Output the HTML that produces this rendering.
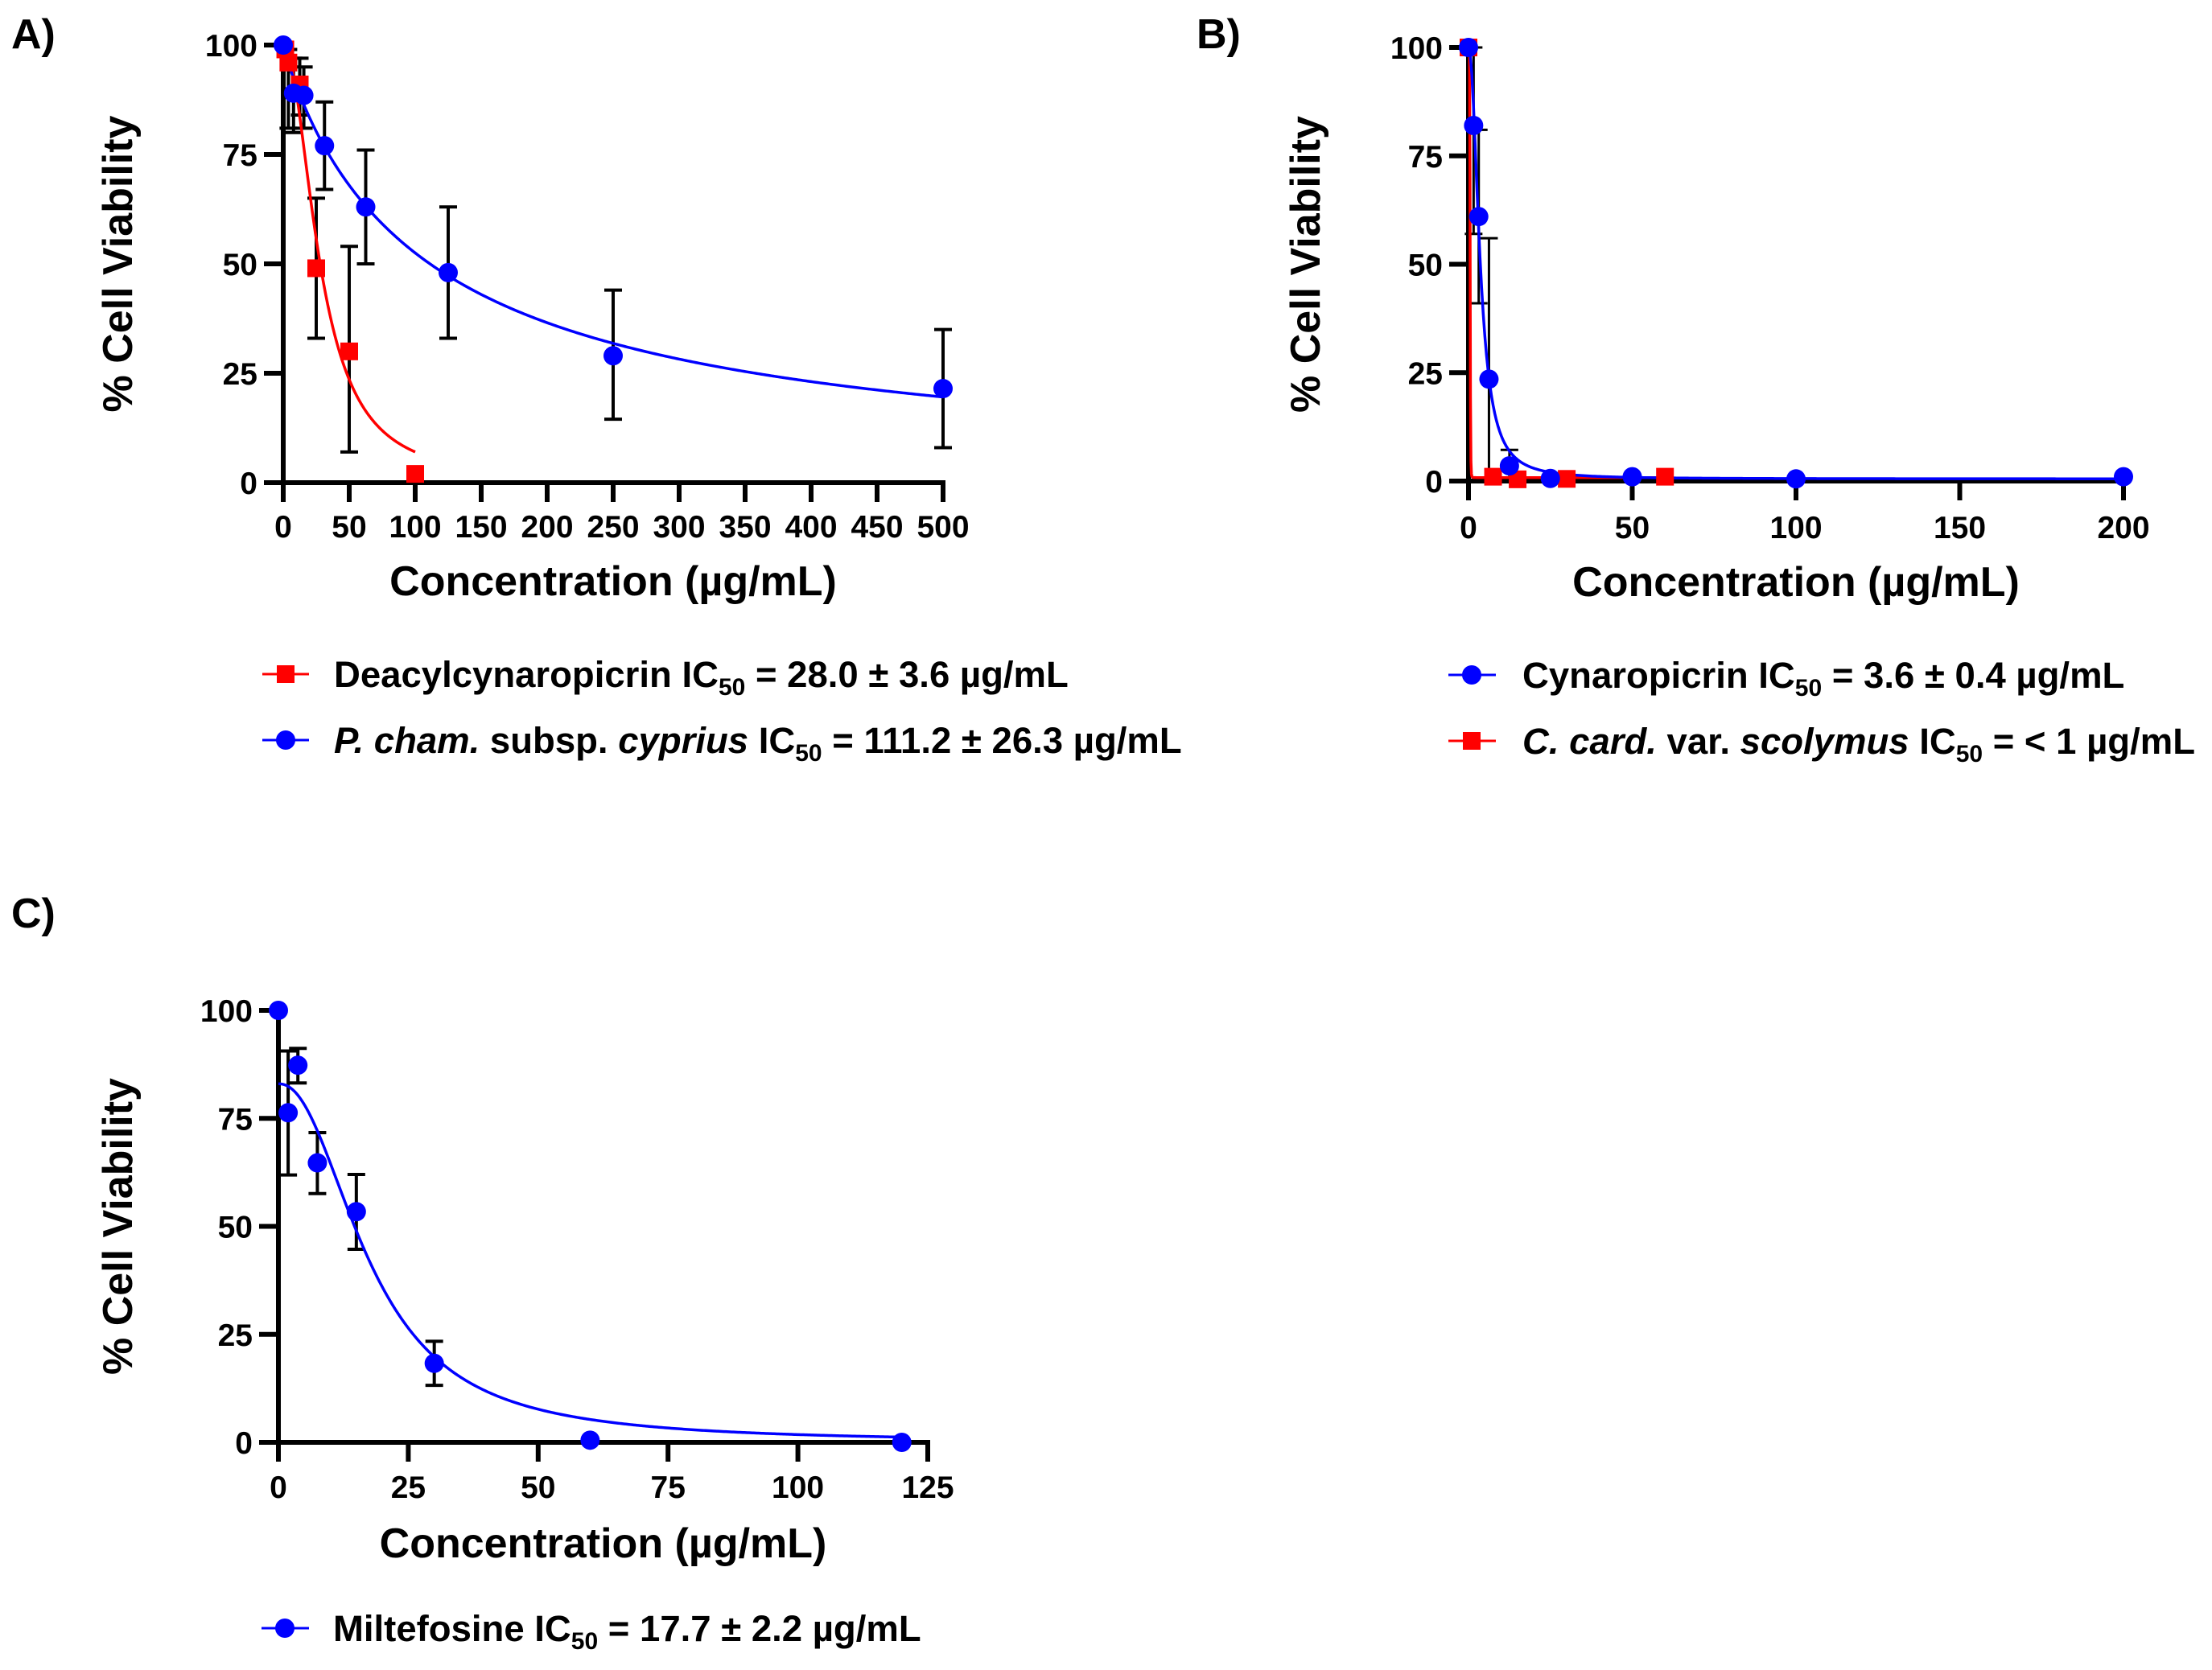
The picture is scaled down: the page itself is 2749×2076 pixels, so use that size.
<!DOCTYPE html>
<html><head><meta charset="utf-8"><style>
html,body{margin:0;padding:0;background:#fff;}
svg{display:block;font-family:"Liberation Sans",Arial,sans-serif;font-weight:bold;}
</style></head><body>
<svg id="fig" width="2749" height="2076" viewBox="0 0 2749 2076" xmlns="http://www.w3.org/2000/svg">
<rect width="2749" height="2076" fill="#fff"/>
<text x="14" y="60" font-size="52">A)</text>
<text x="1487" y="60" font-size="52">B)</text>
<text x="14" y="1153" font-size="52">C)</text>
<g id="pA"></g>
<g id="pB"></g>
<g id="pC"></g>
<g font-size="45.5">
 <g>
  <line x1="326" y1="838" x2="384" y2="838" stroke="#f00" stroke-width="3"/>
  <rect x="344" y="827" width="22" height="22" fill="#f00"/>
  <text x="415" y="854">Deacylcynaropicrin IC<tspan font-size="30" dy="10">50</tspan><tspan dy="-10"> = 28.0 ± 3.6 µg/mL</tspan></text>
 </g>
 <g>
  <line x1="326" y1="920" x2="384" y2="920" stroke="#00f" stroke-width="3"/>
  <circle cx="355" cy="920" r="12" fill="#00f"/>
  <text x="415" y="936"><tspan font-style="italic">P. cham.</tspan> subsp. <tspan font-style="italic">cyprius</tspan> IC<tspan font-size="30" dy="10">50</tspan><tspan dy="-10"> = 111.2 ± 26.3 µg/mL</tspan></text>
 </g>
</g>
<g font-size="45.5">
 <g>
  <line x1="1800" y1="839" x2="1859" y2="839" stroke="#00f" stroke-width="3"/>
  <circle cx="1829" cy="839" r="12" fill="#00f"/>
  <text x="1892" y="855">Cynaropicrin IC<tspan font-size="30" dy="10">50</tspan><tspan dy="-10"> = 3.6 ± 0.4 µg/mL</tspan></text>
 </g>
 <g>
  <line x1="1800" y1="921" x2="1859" y2="921" stroke="#f00" stroke-width="3"/>
  <rect x="1818" y="910" width="22" height="22" fill="#f00"/>
  <text x="1892" y="937"><tspan font-style="italic">C. card.</tspan> var. <tspan font-style="italic">scolymus</tspan> IC<tspan font-size="30" dy="10">50</tspan><tspan dy="-10"> = &lt; 1 µg/mL</tspan></text>
 </g>
</g>
<g font-size="45.5">
 <g>
  <line x1="325" y1="2024" x2="384" y2="2024" stroke="#00f" stroke-width="3"/>
  <circle cx="354" cy="2024" r="12" fill="#00f"/>
  <text x="414" y="2040">Miltefosine IC<tspan font-size="30" dy="10">50</tspan><tspan dy="-10"> = 17.7 ± 2.2 µg/mL</tspan></text>
 </g>
</g>
</svg>
<script>
// Panel A data
const aXTicks = [0,50,100,150,200,250,300,350,400,450,500];
const yTicks = [0,25,50,75,100];
const aRedX = [1.56,3.9,12.5,25,50,100];
const aRedY = [99,96,91,49,30,2];
const aRedLo = [99,81,84,33,7,2];
const aRedHi = [99,99,97,65,54,2];
const aBlueX = [0,7.8,15.6,31.25,62.5,125,250,500];
const aBlueY = [100,89,88.5,77,63,48,29,21.5];
const aBlueLo = [100,80,81,67,50,33,14.5,8];
const aBlueHi = [100,97,95,87,76,63,44,35];
const aRedFit = [100,0,28,2.03,0,100];   // top,bottom,IC50,hill,xmin,xmax
const aBlueFit = [100,0,111.2,0.94,0,500];
// Panel B data
const bXTicks = [0,50,100,150,200];
const bBlueX = [0,1.56,3.125,6.25,12.5,25,50,100,200];
const bBlueY = [100,82,61,23.5,3.5,0.6,1,0.5,1];
const bBlueLo = [100,57,41,0,0.5,0.6,1,0.5,1];
const bBlueHi = [100,100,81,56,7.2,0.6,1,0.5,1];
const bRedX = [0,7.5,15,30,60];
const bRedY = [100,1,0.4,0.5,1];
const bBlueFit = [100,0.5,3.6,2.15,0,200];
const bRedFit = [100,0.8,0.5,8,0,60];
// Panel C data
const cXTicks = [0,25,50,75,100,125];
const cX = [0,1.875,3.75,7.5,15,30,60,120];
const cY = [100,76.3,87.3,64.7,53.4,18.3,0.5,0];
const cLo = [100,61.9,83.2,57.6,44.7,13.2,0.5,0];
const cHi = [100,90.6,91.2,71.7,62,23.4,0.5,0];
const cFit = [83,0,17.7,2.2,0,120];

const NS = "http://www.w3.org/2000/svg";
function mk(parent, tag, attrs){const e=document.createElementNS(NS,tag);for(const k in attrs)e.setAttribute(k,attrs[k]);parent.appendChild(e);return e;}

function panel(g, ax, xMax, y0px, y100px, xEndPx, xTicks, ebw, titleY, ytx, tickLabY){
  const sx = v => ax + (v/xMax)*(xEndPx-ax);
  const sy = v => y0px - (v/100)*(y0px-y100px);
  const axes = mk(g,'g',{});
  
  
  const yl = mk(axes,'line',{x1:ax,y1:sy(0)+3,x2:ax,y2:sy(100)-3,stroke:'#000','stroke-width':6});
  
  
  const xl = mk(axes,'line',{x1:ax-3,y1:y0px,x2:xEndPx+3,y2:y0px,stroke:'#000','stroke-width':6});
  
  
  yTicks.forEach(t=>{
    mk(axes,'line',{x1:ax-24,y1:sy(t),x2:ax,y2:sy(t),stroke:'#000','stroke-width':6});
    const tx = mk(axes,'text',{x:ax-32,y:sy(t)+14,'font-size':39,'text-anchor':'end'});
    tx.textContent = t;
    
    
  });
  xTicks.forEach(t=>{
    mk(axes,'line',{x1:sx(t),y1:y0px,x2:sx(t),y2:y0px+24,stroke:'#000','stroke-width':6});
    const tx = mk(axes,'text',{x:sx(t),y:tickLabY,'font-size':39,'text-anchor':'middle'});
    tx.textContent = t;
    
    
  });
  const xt = mk(axes,'text',{x:(ax+xEndPx)/2,y:titleY,'font-size':52,'text-anchor':'middle'});
  xt.textContent = 'Concentration (µg/mL)';
  
  
  const cy = (y0px+y100px)/2;
  const yt = mk(axes,'text',{x:ytx,y:cy,'font-size':52,'text-anchor':'middle',transform:`rotate(-90 ${ytx} ${cy})`});
  yt.textContent = '% Cell Viability';
  
  
  return {sx,sy};
}
function fit(g, s, p, color, name){
  const [top,bot,ic,h,x0,x1]=p; let d='';
  for(let i=0;i<=400;i++){const x=x0+(x1-x0)*i/400; const y=bot+(top-bot)/(1+Math.pow(x/ic,h)); d+=(i?'L':'M')+s.sx(x).toFixed(2)+' '+s.sy(y).toFixed(2);}
  const e = mk(g,'path',{d:d,fill:'none',stroke:color,'stroke-width':3.5});
  
  
}
function errs(g, s, xs, lo, hi, w, name){
  xs.forEach((x,i)=>{
    if(hi[i]-lo[i] < 0.5) return;
    const X=s.sx(x), a=s.sy(lo[i]), b=s.sy(hi[i]);
    const e = mk(g,'path',{d:`M${X} ${a}V${b}M${X-11} ${a}H${X+11}M${X-11} ${b}H${X+11}`,stroke:'#000','stroke-width':w,fill:'none'});
    
    
  });
}
function dots(g, s, xs, ys, color, name){
  xs.forEach((x,i)=>{
    const e = mk(g,'circle',{cx:s.sx(x),cy:s.sy(ys[i]),r:12,fill:color});
    
    
  });
}
function squares(g, s, xs, ys, color, name){
  xs.forEach((x,i)=>{
    const e = mk(g,'rect',{x:s.sx(x)-11,y:s.sy(ys[i])-11,width:22,height:22,fill:color});
    
    
  });
}

// Panel A
const gA=document.getElementById('pA');
const sA=panel(gA,352,500,600,56,1172,aXTicks,4,740,164,668);
errs(gA,sA,aRedX,aRedLo,aRedHi,4,'error-bar-deacylcynaropicrin');
errs(gA,sA,aBlueX,aBlueLo,aBlueHi,4,'error-bar-p-cham');
fit(gA,sA,aRedFit,'#f00','fit-curve-deacylcynaropicrin');
fit(gA,sA,aBlueFit,'#00f','fit-curve-p-cham');
squares(gA,sA,aRedX,aRedY,'#f00','point-deacylcynaropicrin');
dots(gA,sA,aBlueX,aBlueY,'#00f','point-p-cham');

// Panel B
const gB=document.getElementById('pB');
const sB=panel(gB,1825,200,598,59,2639,bXTicks,3,741,1640,669);
errs(gB,sB,bBlueX,bBlueLo,bBlueHi,3,'error-bar-cynaropicrin');
fit(gB,sB,bRedFit,'#f00','fit-curve-c-card');
fit(gB,sB,bBlueFit,'#00f','fit-curve-cynaropicrin');
squares(gB,sB,bRedX,bRedY,'#f00','point-c-card');
dots(gB,sB,bBlueX,bBlueY,'#00f','point-cynaropicrin');

// Panel C
const gC=document.getElementById('pC');
const sC=panel(gC,346,125,1793,1256,1153,cXTicks,4,1936,164,1862);
errs(gC,sC,cX,cLo,cHi,4,'error-bar-miltefosine');
fit(gC,sC,cFit,'#00f','fit-curve-miltefosine');
dots(gC,sC,cX,cY,'#00f','point-miltefosine');
</script>
</body></html>
